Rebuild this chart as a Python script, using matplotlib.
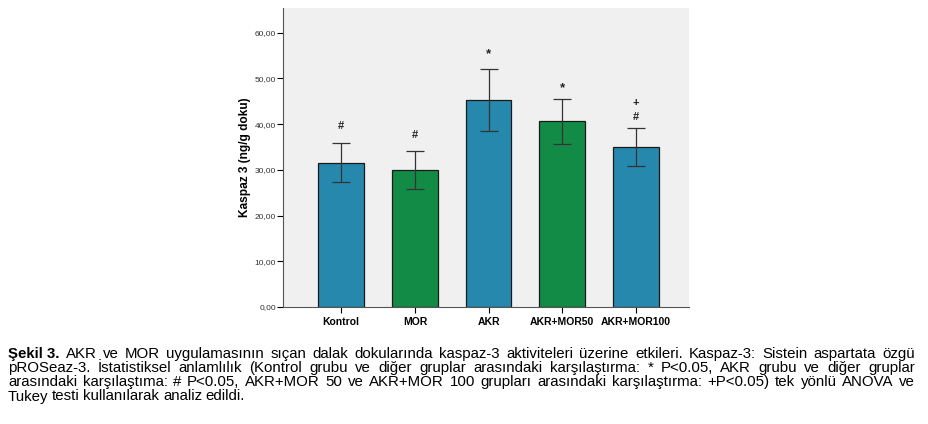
import matplotlib
matplotlib.use("Agg")
import matplotlib.pyplot as plt

groups = ["Kontrol", "MOR", "AKR", "AKR+MOR50", "AKR+MOR100"]
means = [31.5, 30.0, 45.3, 40.6, 35.0]
err_low = [27.3, 25.8, 38.6, 35.6, 30.9]
err_high = [35.9, 34.2, 52.1, 45.4, 39.1]
# significance marks above each bar and where they sit (in data units)
marks = [["#"], ["#"], ["*"], ["*"], ["#", "+"]]
mark_y = [[39.5], [37.7], [55.3], [47.9], [41.5, 44.7]]
yticks = [0, 10, 20, 30, 40, 50, 60]

blue = "#2688ad"
green = "#128b47"
bar_colors = [blue, green, blue, green, blue]

caption_lines = [
    "AKR ve MOR uygulamasının sıçan dalak dokularında kaspaz-3 aktiviteleri üzerine etkileri. Kaspaz-3: Sistein aspartata özgü",
    "pROSeaz-3. İstatistiksel anlamlılık (Kontrol grubu ve diğer gruplar arasındaki karşılaştırma: * P<0.05, AKR grubu ve diğer gruplar",
    "arasındaki karşılaştıma: # P<0.05, AKR+MOR 50 ve AKR+MOR 100 grupları arasındaki karşılaştırma: +P<0.05) tek yönlü ANOVA ve",
    "Tukey testi kullanılarak analiz edildi.",
]

plt.rcParams["font.family"] = ["Liberation Sans", "DejaVu Sans"]

fig = plt.figure(figsize=(9.29, 4.24), dpi=100)
ax = fig.add_axes([283 / 929, 1 - 307 / 424, 406 / 929, 299 / 424])
ax.set_facecolor("#f0f0f0")

x = list(range(len(groups)))
ax.bar(x, means, width=0.62, color=bar_colors, edgecolor="#1a1a1a", linewidth=0.9, zorder=2)
yerr = [[m - lo for m, lo in zip(means, err_low)], [hi - m for m, hi in zip(means, err_high)]]
ax.errorbar(x, means, yerr=yerr, fmt="none", ecolor="#333333", elinewidth=0.9,
            capsize=6.8, capthick=0.9, zorder=3)

for xi, ms, ys in zip(x, marks, mark_y):
    for m, yy in zip(ms, ys):
        size = 9.5 if m == "*" else 8
        ax.text(xi, yy, m, ha="center", va="center", fontsize=size, fontweight="bold",
                color="#222222")

ax.set_xlim(-0.79, 4.72)
ax.set_ylim(0, 65.4)
ax.set_yticks(yticks)
ax.set_yticklabels([f"{v:.2f}".replace(".", ",") for v in yticks], fontsize=6, color="#333333")
ax.set_xticks(x)
ax.set_xticklabels(groups, fontsize=7.5, fontweight="bold")
ax.tick_params(axis="y", length=4, width=0.8, pad=1)
ax.tick_params(axis="x", length=4, width=0.8, pad=3)
for side in ["top", "right"]:
    ax.spines[side].set_visible(False)
ax.spines["left"].set_color("#555555")
ax.spines["bottom"].set_color("#555555")
ax.set_ylabel("Kaspaz 3 (ng/g doku)", fontsize=8.6, fontweight="bold", labelpad=3)

# caption, justified like the original figure text
renderer = fig.canvas.get_renderer()
left_px, right_px = 8, 915
baselines = [357.7, 372.0, 386.2, 400.5]
for i, (line, ypx) in enumerate(zip(caption_lines, baselines)):
    items = []
    if i == 0:
        items.append(("Şekil 3.", "bold"))
    items += [(w, "normal") for w in line.split(" ")]
    texts = []
    for w, weight in items:
        t = fig.text(0, 1 - ypx / 424, w, fontsize=10.8, fontweight=weight, va="baseline", ha="left")
        texts.append(t)
    widths = [t.get_window_extent(renderer).width for t in texts]
    if i < len(caption_lines) - 1:
        gap = (right_px - left_px - sum(widths)) / (len(texts) - 1)
    else:
        gap = 3.6
    pos = left_px
    for t, w in zip(texts, widths):
        t.set_x(pos / 929)
        pos += w + gap

fig.savefig("out.png", dpi=100)
